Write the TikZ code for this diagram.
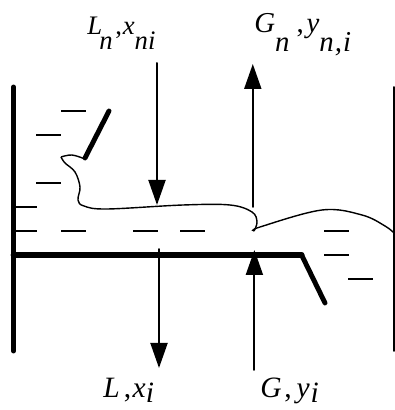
\documentclass[tikz,border=0pt]{standalone}
\usepackage{fontspec}
\setmainfont{Liberation Serif}
\usetikzlibrary{arrows.meta,calc}
\usepackage{tkz-euclide}
\newcommand{\LowTxt}[2]{\lower#1\hbox{\textit{#2}}}
\tikzset{
  FlowTip/.style={-{Triangle[width=4.25mm,length=6.25mm]}},
  StageLbl/.style={anchor=base west,inner sep=0pt,font=\fontsize{#1}{24pt}\selectfont}
}

\begin{document}
\begin{tikzpicture}
\useasboundingbox (0,0) rectangle (9.875,10.25);

\tkzDefPoints{0.3375/8.075/WT,0.3375/1.475/WB,9.85/8.075/RT,9.85/1.475/RB}
\tkzDefPoints{0.34/3.875/TL,7.54/3.875/TR,8.125/2.675/TE}
\tkzDefPoints{2.125/6.3/UB,2.725/7.475/UT}
\tkzDefPoints{3.925/8.675/LnA,3.925/5.125/LnB,6.32/5.075/GnA,6.32/8.65/GnB}
\tkzDefPoints{3.975/4.025/LA,3.975/1.05/LB,6.36/1/GA,6.36/4/GB}
\tkzDefPoints{2.175/9.375/LnT,6.35/9.425/GnT,2.575/0.32/LT,6.5/0.32/GT}

\tkzDrawSegments[line width=3.5pt,line cap=round](WT,WB UB,UT)
\tkzDrawSegment[line width=4.25pt](TL,TR)
\tkzDrawSegment[line width=3.5pt,line cap=round](TR,TE)
\tkzDrawSegments[line width=1.4pt](RT,RB)

% liquid level
\foreach \xa/\ya in {1.525/7.475,0.9/6.875,0.9/5.675,0.3/5.075,0.3/4.475,1.525/4.475,3.325/4.475,4.5/4.475,8.1/4.475,8.1/3.875,8.7/3.275}
  \draw[line width=1.1pt] (\xa,\ya) -- ++(0.625,0);

\draw[line width=1pt] plot[smooth,tension=.6] coordinates {(2.125,6.275) (1.8,6.375) (1.525,6.325)};
\draw[line width=1pt] plot[smooth,tension=.6] coordinates {(1.525,6.325) (1.625,6.175) (1.875,5.95) (2,5.575) (1.95,5.25) (2.1,5.1) (2.675,5.025) (4.575,5.125) (5.75,5.125) (6.3,4.95) (6.425,4.7) (6.35,4.475)};
\draw[line width=1pt] plot[smooth,tension=.6] coordinates {(6.35,4.475) (6.5,4.575) (8.05,5) (9.05,4.875) (9.625,4.6) (9.85,4.425)};

\tkzDrawSegments[line width=1.4pt,FlowTip](LnA,LnB GnA,GnB LA,LB GA,GB)

\node[StageLbl=19pt] (LnLbl) at (LnT) {\textit{L}\kern-2pt\LowTxt{10.6pt}{n}\kern2pt,\kern.5pt\textit{x}\LowTxt{10.6pt}{ni}};
\node[StageLbl=20.5pt] (GnLbl) at (GnT) {\textit{G}\LowTxt{13.5pt}{n}\kern5pt,\kern2pt\textit{y}\LowTxt{13.5pt}{n\kern.8pt,\kern.8pt i}};
\node[StageLbl=21pt] (LLbl) at (LT) {\textit{L}\kern3pt,\kern1pt\textit{x}\LowTxt{3.5pt}{i}};
\node[StageLbl=21pt] (GLbl) at (GT) {\textit{G}\kern2pt,\kern3.5pt\textit{y}\kern.5pt\LowTxt{3.5pt}{i}};

\end{tikzpicture}
\end{document}
